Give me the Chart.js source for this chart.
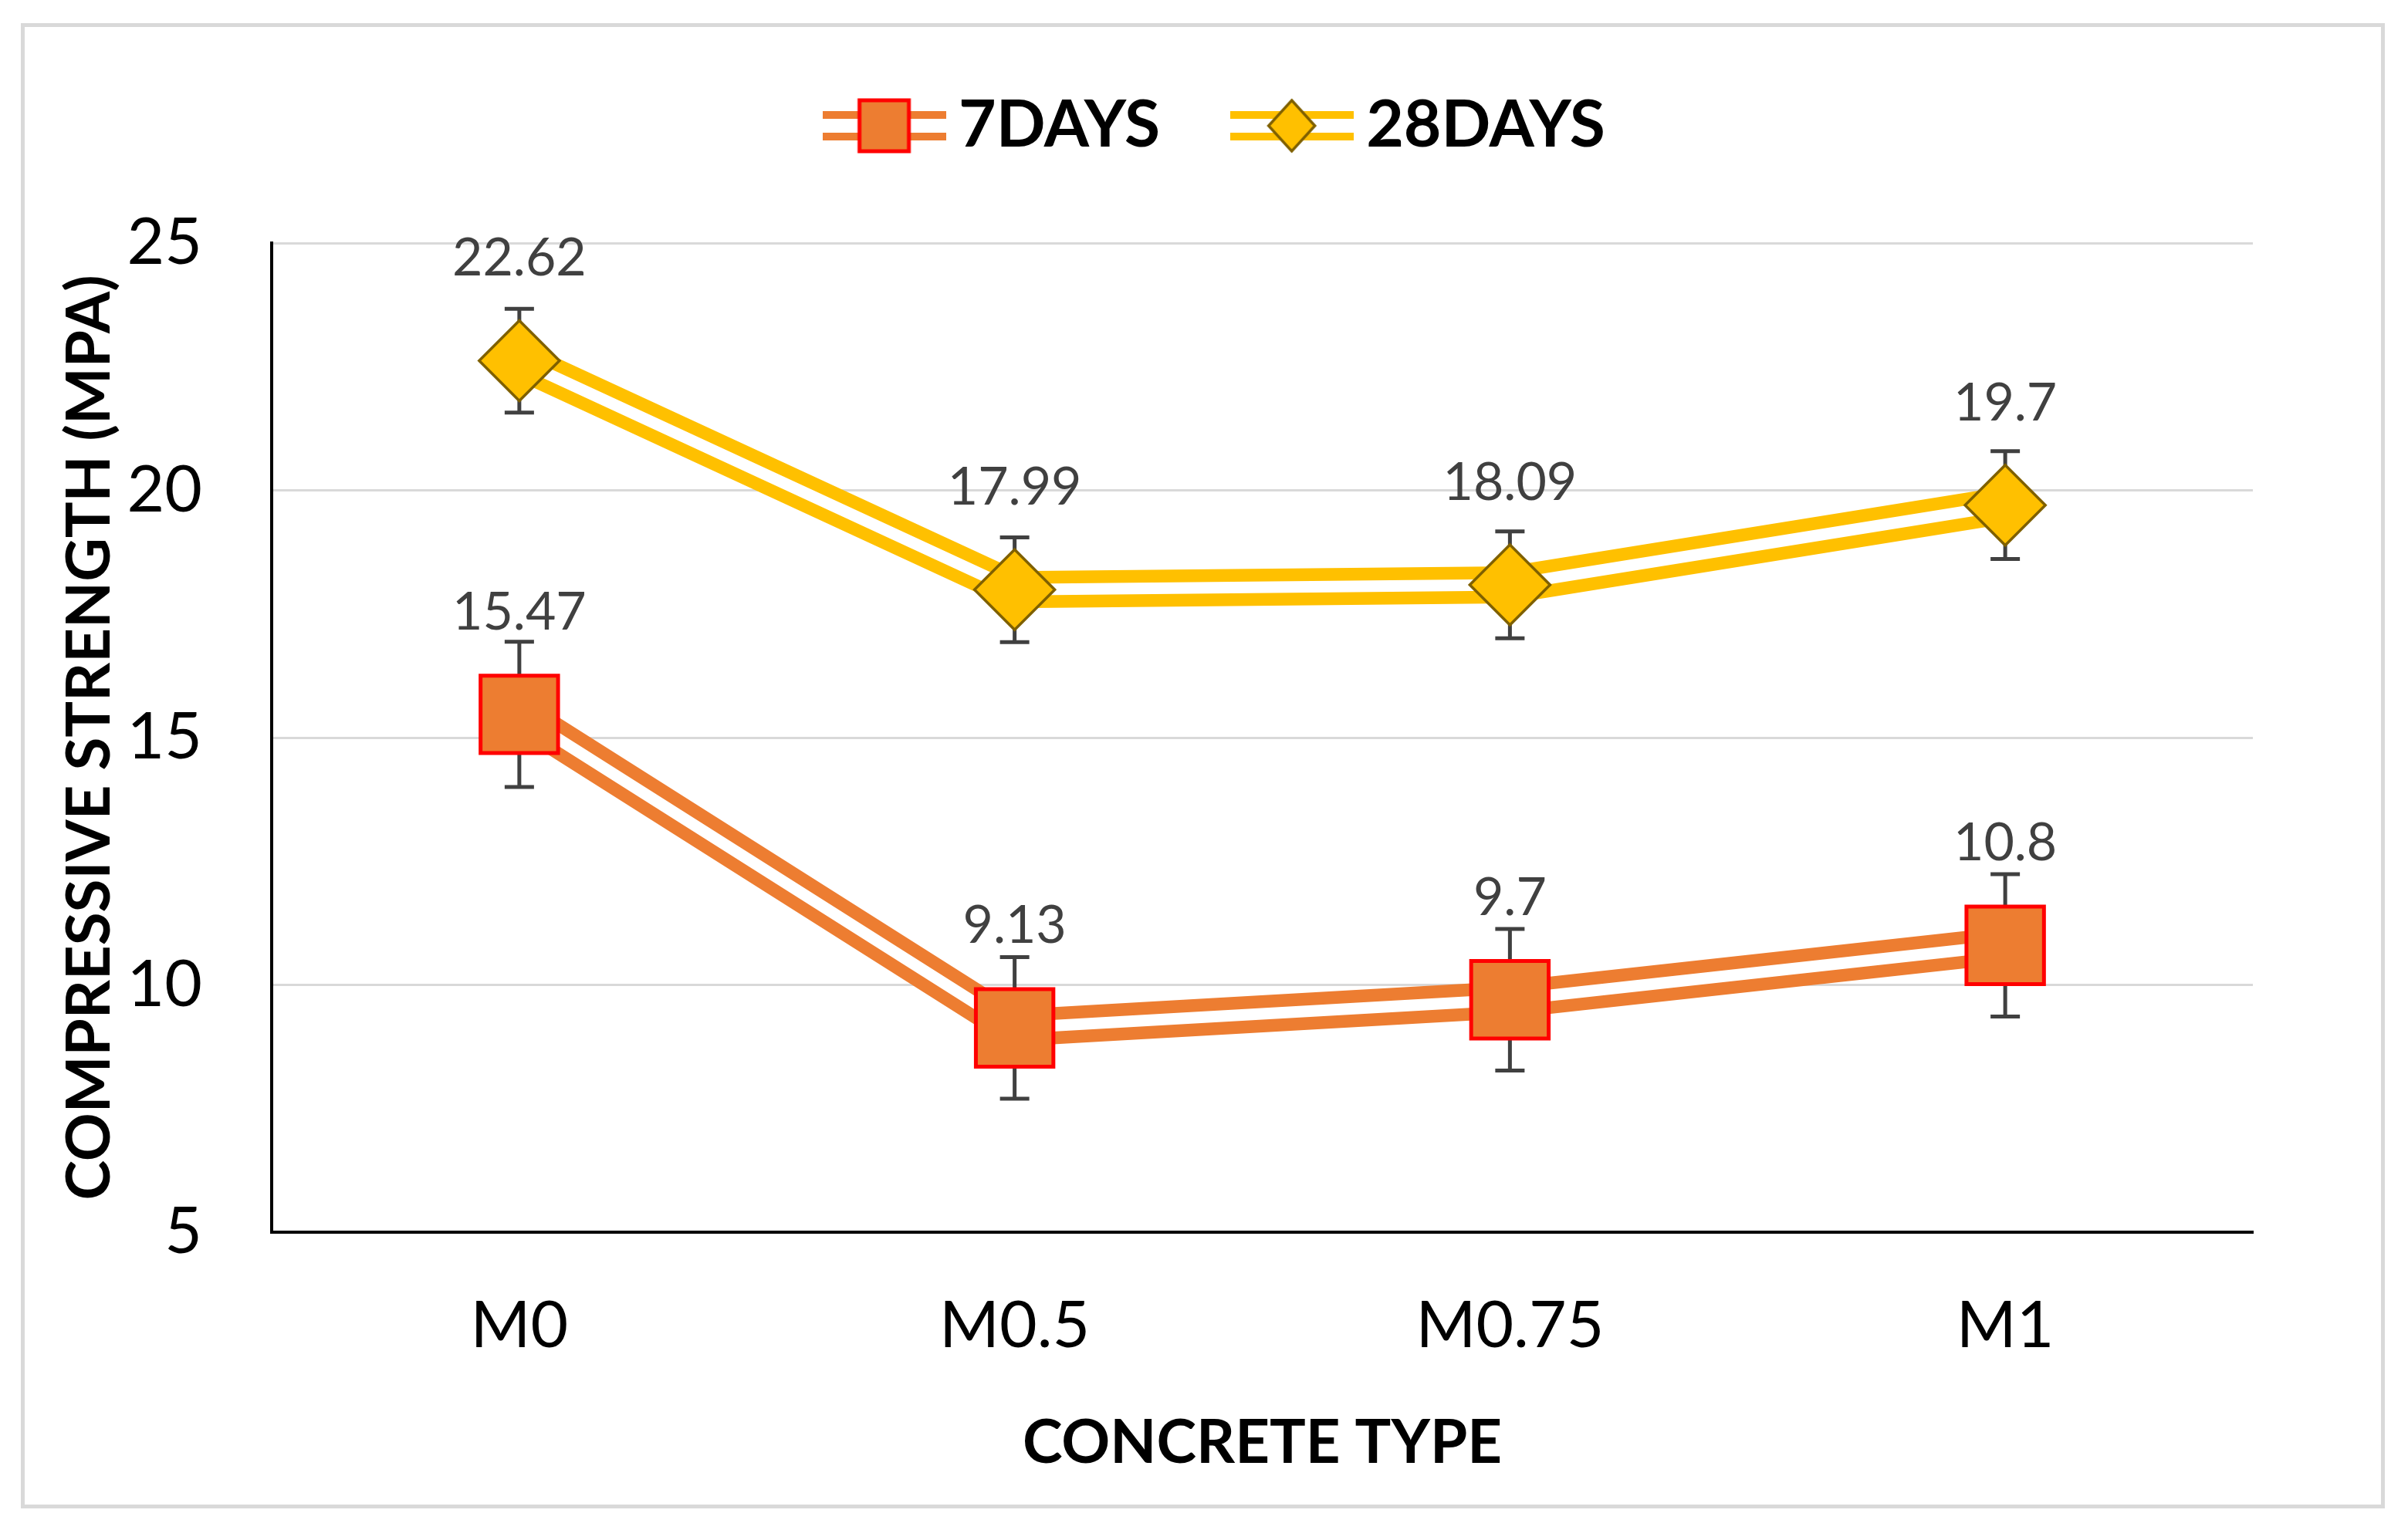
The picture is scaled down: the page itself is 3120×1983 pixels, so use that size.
<!DOCTYPE html>
<html>
<head>
<meta charset="utf-8">
<script src="https://cdn.jsdelivr.net/npm/chart.js@4"></script>
<style>
html, body { margin: 0; padding: 0; background: #fff; }
#graf { display: block; }
</style>
</head>
<body>
<canvas id="graf" width="3120" height="1983"></canvas>
<script>
// values
var types = ["M0", "M0.5", "M0.75", "M1"];   // x axis categories
var days7 = [15.47, 9.13, 9.7, 10.8];         // 7 days strength (MPa)
var days28 = [22.62, 17.99, 18.09, 19.7];     // 28 days strength (MPa)
var err7 = [1.47, 1.43, 1.43, 1.44];          // error bar +/- for 7 days
var err28 = [1.05, 1.06, 1.08, 1.09];         // error bar +/- for 28 days
var yMin = 5, yMax = 25, yStep = 5;           // y axis ticks

var orange = "#ED7D31";
var yellow = "#FFC000";
var font = "Lato";

// legend symbols: double line with the marker on it
function legendIcon(kind) {
  var c = document.createElement("canvas");
  c.width = 160; c.height = 80;
  var g = c.getContext("2d");
  g.fillStyle = kind == "rect" ? orange : yellow;
  g.fillRect(0, 40 - 14 - 5, 160, 10);
  g.fillRect(0, 40 + 14 - 5, 160, 10);
  if (kind == "rect") {
    g.fillStyle = orange;
    g.strokeStyle = "#FF0000";
    g.lineWidth = 5;
    g.fillRect(48, 7, 64, 66);
    g.strokeRect(48, 7, 64, 66);
  } else {
    g.beginPath();
    g.moveTo(80, 7); g.lineTo(110, 40); g.lineTo(80, 73); g.lineTo(50, 40);
    g.closePath();
    g.fillStyle = yellow; g.fill();
    g.strokeStyle = "#7F6000"; g.lineWidth = 3.5; g.stroke();
  }
  return c;
}
var icon7 = legendIcon("rect");
var icon28 = legendIcon("rectRot");

// white background + light grey frame
var frame = {
  id: "frame",
  beforeDraw: function (chart) {
    var ctx = chart.ctx;
    ctx.save();
    ctx.fillStyle = "#fff";
    ctx.fillRect(0, 0, chart.width, chart.height);
    ctx.strokeStyle = "#D9D9D9";
    ctx.lineWidth = 5;
    ctx.strokeRect(29.5, 32.5, 3058, 1920);
    ctx.restore();
  }
};

// move the legend into place without changing the plot area
var legendShift = {
  id: "legendShift",
  afterLayout: function (chart) {
    var lg = chart.legend;
    lg.top -= 100; lg.bottom -= 100;
    lg.left += 91; lg.right += 91;
  }
};

// error bars (under the markers) and value labels
var extras = {
  id: "extras",
  beforeDatasetDraw: function (chart, args) {
    var ds = chart.data.datasets[args.index];
    if (!ds.errors) return;
    var y = chart.scales.y, ctx = chart.ctx;
    ctx.save();
    ctx.strokeStyle = "#404040";
    ctx.lineWidth = 5;
    args.meta.data.forEach(function (pt, i) {
      var v = ds.data[i];
      var top = y.getPixelForValue(v + ds.errors[i]);
      var bot = y.getPixelForValue(v - ds.errors[i]);
      ctx.beginPath();
      ctx.moveTo(pt.x, top); ctx.lineTo(pt.x, bot);
      ctx.moveTo(pt.x - 19, top); ctx.lineTo(pt.x + 19, top);
      ctx.moveTo(pt.x - 19, bot); ctx.lineTo(pt.x + 19, bot);
      ctx.stroke();
    });
    ctx.restore();
  },
  afterDatasetsDraw: function (chart) {
    var ctx = chart.ctx;
    ctx.save();
    ctx.font = "68px " + font;
    ctx.fillStyle = "#404040";
    ctx.textAlign = "center";
    ctx.textBaseline = "middle";
    chart.data.datasets.forEach(function (ds, k) {
      if (!ds.errors) return;
      chart.getDatasetMeta(k).data.forEach(function (pt, i) {
        ctx.fillText(String(ds.data[i]), pt.x, pt.y - 132);
      });
    });
    ctx.restore();
  }
};

new Chart(document.getElementById("graf"), {
  type: "line",
  data: {
    labels: types,
    datasets: [
      // markers
      { label: "7DAYS", data: days7, errors: err7, showLine: false, pointStyle: "rect", pointRadius: 71,
        pointBackgroundColor: orange, pointBorderColor: "#FF0000", pointBorderWidth: 5, order: 1 },
      { label: "28DAYS", data: days28, errors: err28, showLine: false, pointStyle: "rectRot", pointRadius: 52,
        pointBackgroundColor: yellow, pointBorderColor: "#7F6000", pointBorderWidth: 3.5, order: 1 },
      // double lines: thick coloured line with a white core
      { label: "7DAYS line", data: days7, borderColor: orange, borderWidth: 48, pointRadius: 0,
        borderJoinStyle: "round", order: 3 },
      { label: "28DAYS line", data: days28, borderColor: yellow, borderWidth: 48, pointRadius: 0,
        borderJoinStyle: "round", order: 3 },
      { label: "7DAYS gap", data: days7, borderColor: "#fff", borderWidth: 15, pointRadius: 0,
        borderJoinStyle: "round", order: 2 },
      { label: "28DAYS gap", data: days28, borderColor: "#fff", borderWidth: 15, pointRadius: 0,
        borderJoinStyle: "round", order: 2 }
    ]
  },
  options: {
    responsive: false,
    devicePixelRatio: 1,
    animation: false,
    events: [],
    layout: { padding: { left: 70, right: 201, top: 105, bottom: 65 } },
    plugins: {
      tooltip: { enabled: false },
      legend: {
        position: "top",
        labels: {
          usePointStyle: true,
          pointStyleWidth: 109,
          padding: 116,
          color: "#000",
          font: { family: font, size: 84, weight: "bold" },
          generateLabels: function () {
            return [
              { text: "7DAYS", pointStyle: icon7, fillStyle: orange, strokeStyle: "#FF0000", lineWidth: 0, hidden: false, datasetIndex: 0, fontColor: "#000" },
              { text: "28DAYS", pointStyle: icon28, fillStyle: yellow, strokeStyle: "#7F6000", lineWidth: 0, hidden: false, datasetIndex: 1, fontColor: "#000" }
            ];
          }
        }
      }
    },
    scales: {
      x: {
        type: "category",
        offset: true,
        grid: { display: false, drawTicks: false },
        border: { color: "#000", width: 4 },
        ticks: { color: "#000", font: { family: font, size: 84 }, padding: 72 },
        title: { display: true, text: "CONCRETE TYPE", color: "#000", padding: 0,
                 font: { family: font, size: 78, weight: "bold" } },
        afterFit: function (s) { s.height = 321; }
      },
      y: {
        min: yMin,
        max: yMax,
        ticks: { stepSize: yStep, color: "#000", font: { family: font, size: 84 }, padding: 90 },
        grid: { color: "#D9D9D9", lineWidth: 3, drawTicks: false },
        border: { color: "#000", width: 4 },
        title: { display: true, text: "COMPRESSIVE STRENGTH (MPA)", color: "#000", padding: 0,
                 font: { family: font, size: 78, weight: "bold" } },
        afterFit: function (s) { s.width = 282; }
      }
    }
  },
  plugins: [frame, legendShift, extras]
});
</script>
</body>
</html>
